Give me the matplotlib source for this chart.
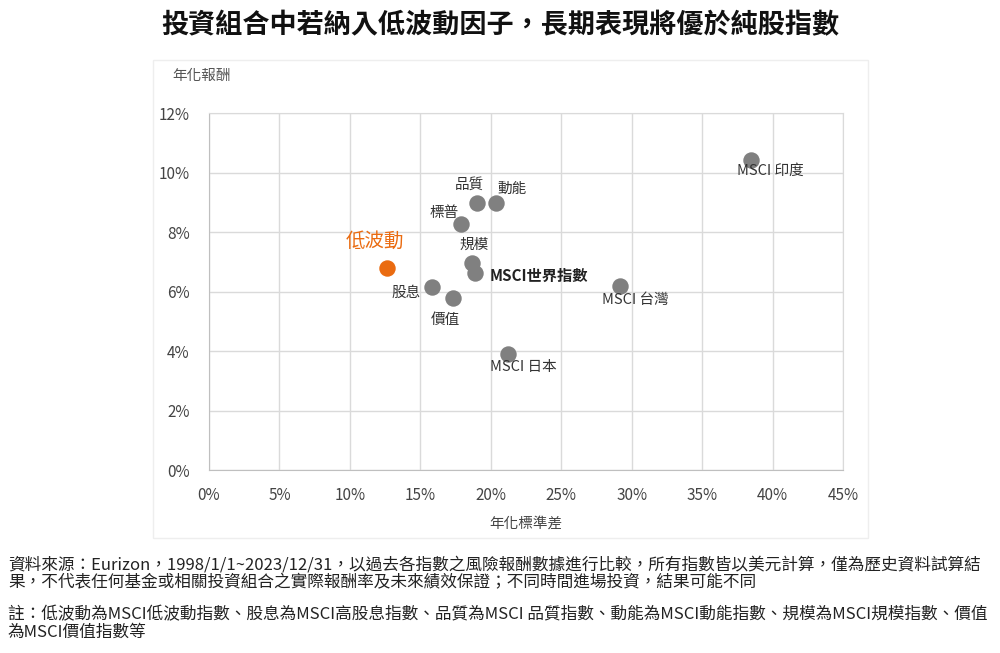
import matplotlib.pyplot as plt
from matplotlib.ticker import FuncFormatter, MultipleLocator
from matplotlib.patches import Rectangle

plt.rcParams['font.family'] = ['Noto Sans CJK TC', 'DejaVu Sans']

# 資料 (年化標準差 %, 年化報酬 %)
names = ["股息", "價值", "標普", "品質", "動能", "規模", "MSCI世界指數", "MSCI 台灣", "MSCI 日本", "MSCI 印度"]
risk = [15.8, 17.3, 17.9, 19.0, 20.4, 18.7, 18.9, 29.2, 21.2, 38.5]
ret = [6.15, 5.78, 8.27, 8.97, 8.97, 6.96, 6.62, 6.18, 3.90, 10.42]
lowvol_risk = 12.6
lowvol_ret = 6.79

# label offsets in points
offsets = {
    "股息": (-18, -4), "價值": (-5, -16), "標普": (-12, 8), "品質": (-5, 13),
    "動能": (11, 10), "規模": (1, 13), "MSCI世界指數": (10, -2), "MSCI 台灣": (11, -10),
    "MSCI 日本": (11, -9), "MSCI 印度": (14, -8),
}

fig = plt.figure(figsize=(10, 6.53), dpi=100)
ax = fig.add_axes([0.209, 0.2802, 0.634, 0.5467])

gray = "#808080"
orange = "#EA6B10"

ax.scatter(risk, ret, s=140, color=gray, zorder=3, linewidths=0)
ax.scatter([lowvol_risk], [lowvol_ret], s=140, color=orange, zorder=3, linewidths=0)

for n, x, y in zip(names, risk, ret):
    dx, dy = offsets[n]
    bold = n == "MSCI世界指數"
    ax.annotate(n, (x, y), xytext=(dx, dy), textcoords="offset points",
                ha="center" if not bold else "left", va="center",
                fontsize=11 if bold else 10.5, color="#222222" if bold else "#333333",
                fontweight="bold" if bold else "normal", zorder=4)
ax.annotate("低波動", (lowvol_risk, lowvol_ret), xytext=(-8, 19), textcoords="offset points",
            ha="center", va="center", fontsize=14, color=orange, zorder=4)

ax.set_xlim(0, 45)
ax.set_ylim(0, 12)
ax.xaxis.set_major_locator(MultipleLocator(5))
ax.yaxis.set_major_locator(MultipleLocator(2))
ax.xaxis.set_major_formatter(FuncFormatter(lambda v, p: f"{v:.0f}%"))
ax.yaxis.set_major_formatter(FuncFormatter(lambda v, p: f"{v:.0f}%"))
ax.grid(True, color="#DADADA", linewidth=1)
ax.set_axisbelow(True)
for s in ["top", "right"]:
    ax.spines[s].set_color("#DADADA")
for s in ["left", "bottom"]:
    ax.spines[s].set_color("#BFBFBF")
ax.tick_params(length=0, labelsize=11, colors="#444444", pad=12)
ax.tick_params(axis="y", pad=14)
ax.set_xlabel("年化標準差", fontsize=10.5, color="#444444", labelpad=9)

# outer chart frame
fig.patches.append(Rectangle((0.153, 0.176), 0.715, 0.732, transform=fig.transFigure,
                             fill=False, edgecolor="#EEEEEE", linewidth=1))
fig.text(0.172, 0.884, "年化報酬", fontsize=10.5, color="#555555", va="center")

fig.text(0.5, 0.962, "投資組合中若納入低波動因子，長期表現將優於純股指數",
         ha="center", va="center", fontsize=19.5, fontweight="bold", color="#111111")

note1 = ("資料來源：Eurizon，1998/1/1~2023/12/31，以過去各指數之風險報酬數據進行比較，所有指數皆以美元計算，僅為歷史資料試算結\n"
         "果，不代表任何基金或相關投資組合之實際報酬率及未來績效保證；不同時間進場投資，結果可能不同")
note2 = ("註：低波動為MSCI低波動指數、股息為MSCI高股息指數、品質為MSCI 品質指數、動能為MSCI動能指數、規模為MSCI規模指數、價值\n"
         "為MSCI價值指數等")
fig.text(0.008, 0.121, note1, fontsize=12, color="#222222", va="center", linespacing=1.08)
fig.text(0.008, 0.045, note2, fontsize=12, color="#222222", va="center", linespacing=1.08)

fig.savefig("out.png", dpi=100, facecolor="white")
